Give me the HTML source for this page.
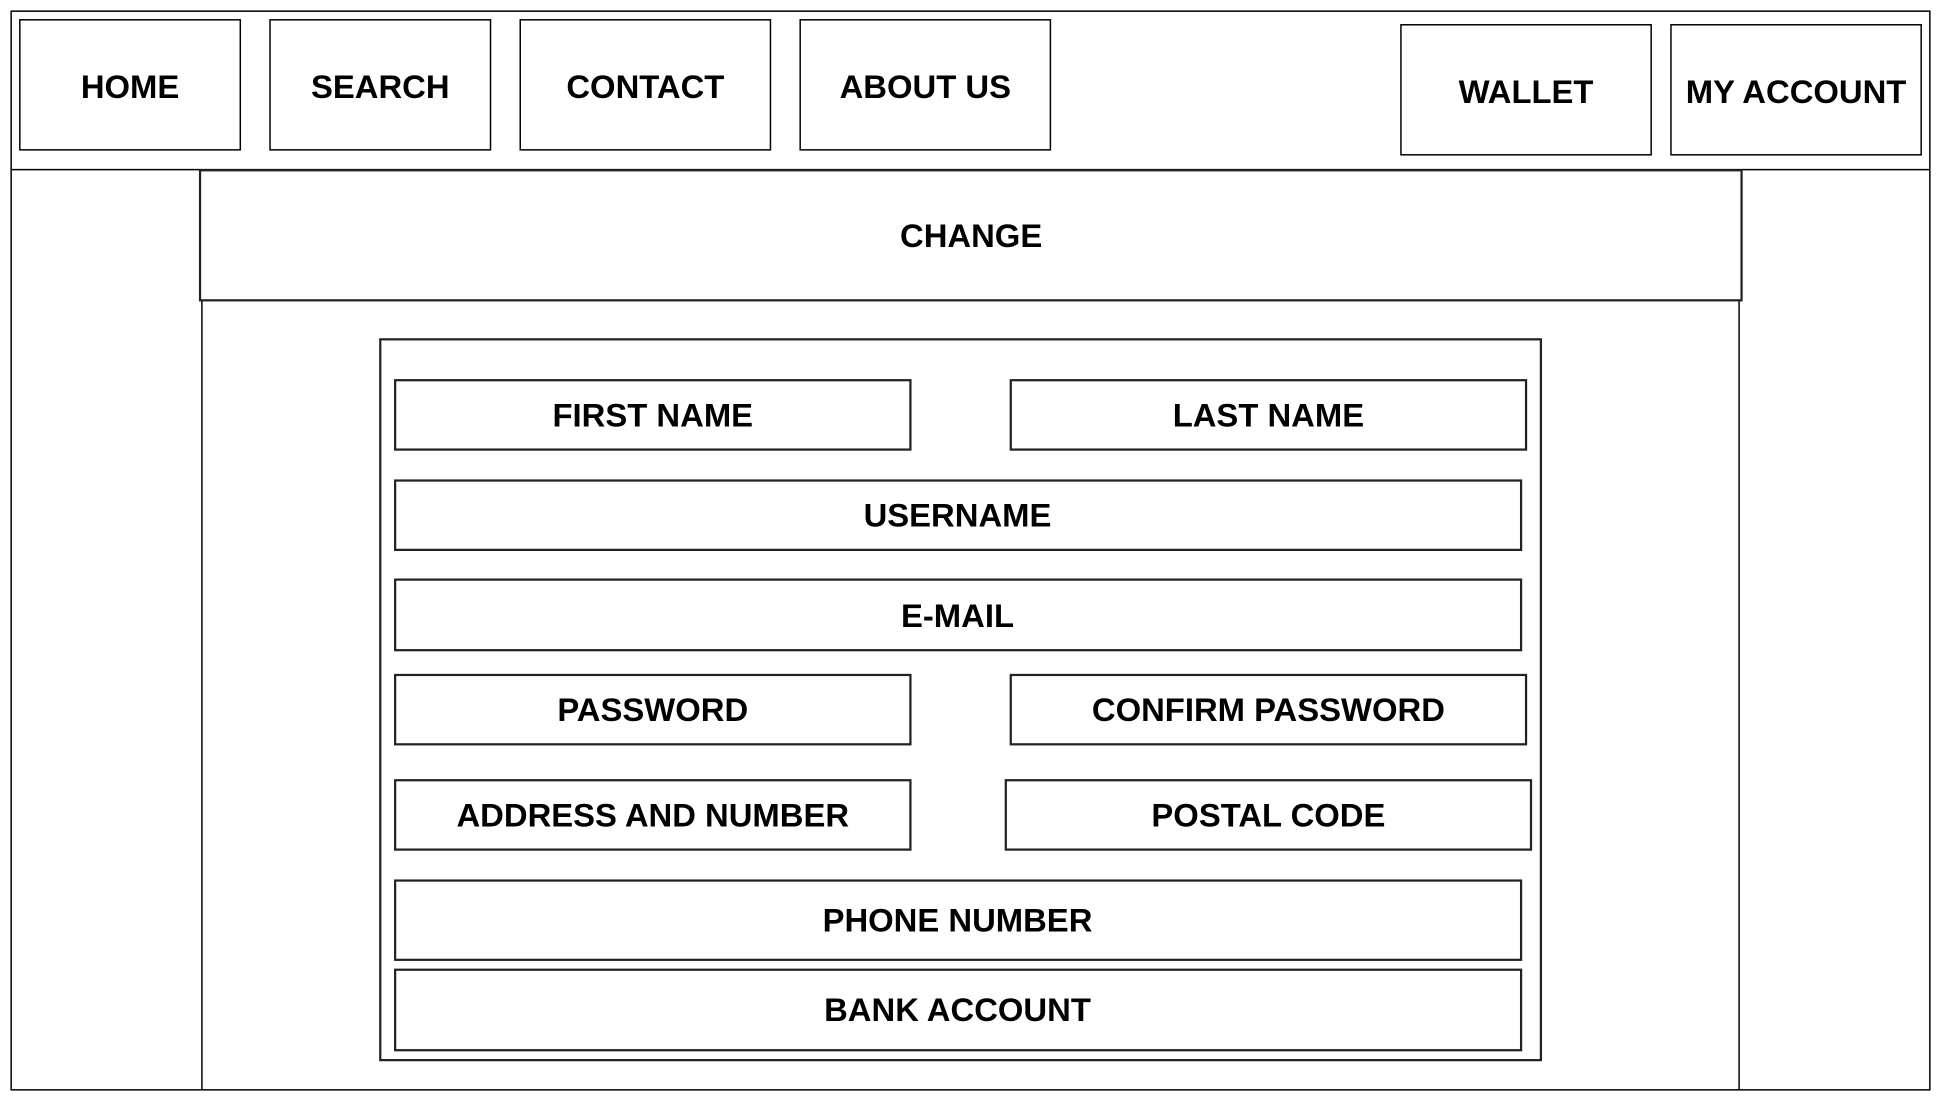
<!DOCTYPE html>
<html><head><meta charset="utf-8"><style>
html,body{margin:0;padding:0;background:#fff;}
svg{display:block;}
text{font-family:"Liberation Sans",Arial,sans-serif;font-weight:bold;font-size:26.5px;fill:#000;text-anchor:middle;dominant-baseline:central;}
rect,line{fill:none;stroke:#000;stroke-width:1.2;}
.g{stroke:#222;stroke-width:1.8;}
</style></head><body>
<svg width="1941" height="1101" viewBox="0 0 1567 889" preserveAspectRatio="none" xmlns="http://www.w3.org/2000/svg">
<rect x="9" y="9" width="1549" height="871"/>
<line x1="9" y1="137" x2="1558" y2="137"/>
<rect x="16" y="16" width="178" height="105"/><text x="105" y="70">HOME</text>
<rect x="218" y="16" width="178" height="105"/><text x="307" y="70">SEARCH</text>
<rect x="420" y="16" width="202" height="105"/><text x="521" y="70">CONTACT</text>
<rect x="646" y="16" width="202" height="105"/><text x="747" y="70">ABOUT US</text>
<rect x="1131" y="20" width="202" height="105"/><text x="1232" y="74">WALLET</text>
<rect x="1349" y="20" width="202" height="105"/><text x="1450" y="74">MY ACCOUNT</text>
<line x1="163" y1="242" x2="163" y2="880"/>
<line x1="1404" y1="242" x2="1404" y2="880"/>
<rect class="g" x="161.5" y="137.5" width="1244.5" height="105"/><text x="784" y="190">CHANGE</text>
<rect class="g" x="307" y="274" width="937" height="582"/>
<rect class="g" x="319" y="307" width="416" height="56"/><text x="527" y="335">FIRST NAME</text>
<rect class="g" x="816" y="307" width="416" height="56"/><text x="1024" y="335">LAST NAME</text>
<rect class="g" x="319" y="388" width="909" height="56"/><text x="773" y="416">USERNAME</text>
<rect class="g" x="319" y="468" width="909" height="57"/><text x="773" y="497">E-MAIL</text>
<rect class="g" x="319" y="545" width="416" height="56"/><text x="527" y="573">PASSWORD</text>
<rect class="g" x="816" y="545" width="416" height="56"/><text x="1024" y="573">CONFIRM PASSWORD</text>
<rect class="g" x="319" y="630" width="416" height="56"/><text x="527" y="658">ADDRESS AND NUMBER</text>
<rect class="g" x="812" y="630" width="424" height="56"/><text x="1024" y="658">POSTAL CODE</text>
<rect class="g" x="319" y="711" width="909" height="64"/><text x="773" y="743">PHONE NUMBER</text>
<rect class="g" x="319" y="783" width="909" height="65"/><text x="773" y="815">BANK ACCOUNT</text>
</svg>
</body></html>
